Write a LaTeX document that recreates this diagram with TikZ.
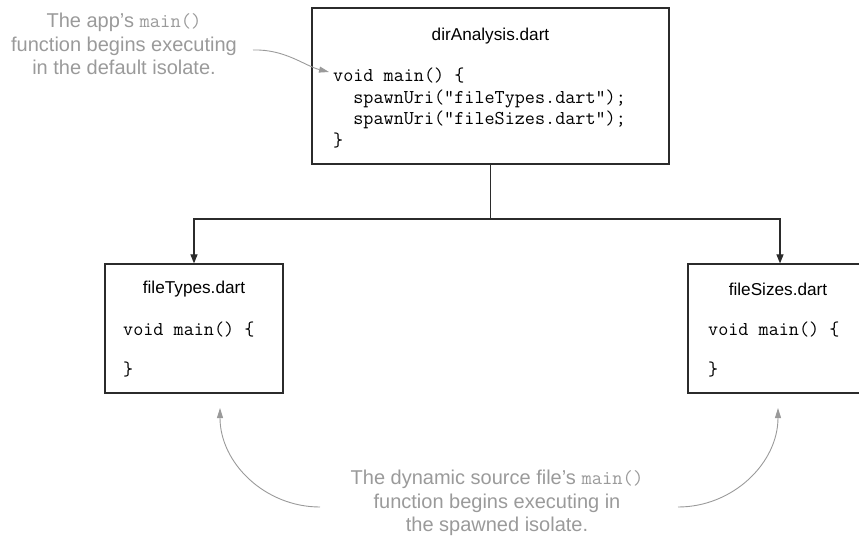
\documentclass[tikz,border=0pt]{standalone}
\usepackage{fontspec}
\setmainfont{Liberation Sans}
\usepackage{tikz}
\usetikzlibrary{arrows.meta,positioning}
\definecolor{ink}{HTML}{2B2B2B}
\definecolor{note}{HTML}{9A9A9A}
\tikzset{
  filebox/.style={draw=ink,line width=1.2pt,inner sep=0pt},
  titletext/.style={font=\fontsize{17.2}{20}\selectfont,inner sep=0pt},
  codetext/.style={font=\fontsize{19.6}{21.5}\ttfamily,align=left,inner sep=0pt},
  notetext/.style={font=\fontsize{20}{23.5}\selectfont,text=note,align=center,inner sep=0pt},
  flowarrow/.style={-{Triangle[length=9pt,width=7pt]},line width=1.1pt,draw=ink},
  notearrow/.style={-{Triangle[length=10pt,width=6pt]},line width=0.9pt,draw=note}
}
\newcommand{\cmain}{{\ttfamily\fontsize{20}{20}\selectfont main()}}

\begin{document}
\begin{tikzpicture}[x=1pt,y=-1pt]
  \useasboundingbox (0,0) rectangle (859,541);
  % main isolate
  \node[filebox,minimum width=357,minimum height=156] (main) at (490.5,86) {};
  \node[titletext] (maintitle) at (490.5,36) {dirAnalysis.dart};
  \node[codetext,anchor=west] (maincode) at (333,108)
    {void main() \{\\
    \ \ spawnUri("fileTypes.dart");\\
    \ \ spawnUri("fileSizes.dart");\\
    \}};
  % spawned isolates
  \node[filebox,minimum width=178,minimum height=129] (types) at (194,328.5) {};
  \node[titletext] (typestitle) at (194,289) {fileTypes.dart};
  \node[codetext,anchor=west,font=\fontsize{19.6}{20}\ttfamily] (typescode) at (123,350)
    {void main() \{\\ \mbox{}\\ \}};
  \node[filebox,minimum width=184,minimum height=129] (sizes) at (780,328.5) {};
  \node[titletext] (sizestitle) at (778,289) {fileSizes.dart};
  \node[codetext,anchor=west,font=\fontsize{19.6}{20}\ttfamily] (sizescode) at (708,350)
    {void main() \{\\ \mbox{}\\ \}};
  % connectors
  \coordinate (split) at (490.5,219);
  \draw[line width=1.1pt,draw=ink] (main.south) -- (split);
  \draw[flowarrow] (split) -| (types.north);
  \draw[flowarrow] (split) -| (sizes.north);
  % notes
  \node[notetext] (topnote) at (124,44)
    {The app’s \cmain\\function begins executing\\in the default isolate.};
  \node[notetext] (bottomnote) at (497,503)
    {The dynamic source file’s \cmain\\function begins executing in\\the spawned isolate.};
  \coordinate (topstart) at (253,50);
  \coordinate (topend) at (329,72);
  \draw[notearrow] (topstart) .. controls (285,49) and (305,66) .. (topend);
  \coordinate (leftstart) at (320,507);
  \coordinate (lefttip) at (220,408);
  \draw[notearrow] (leftstart) .. controls (265,507) and (220,463) .. (lefttip);
  \coordinate (rightstart) at (678,507);
  \coordinate (righttip) at (778,408);
  \draw[notearrow] (rightstart) .. controls (733,507) and (778,463) .. (righttip);
\end{tikzpicture}
\end{document}
